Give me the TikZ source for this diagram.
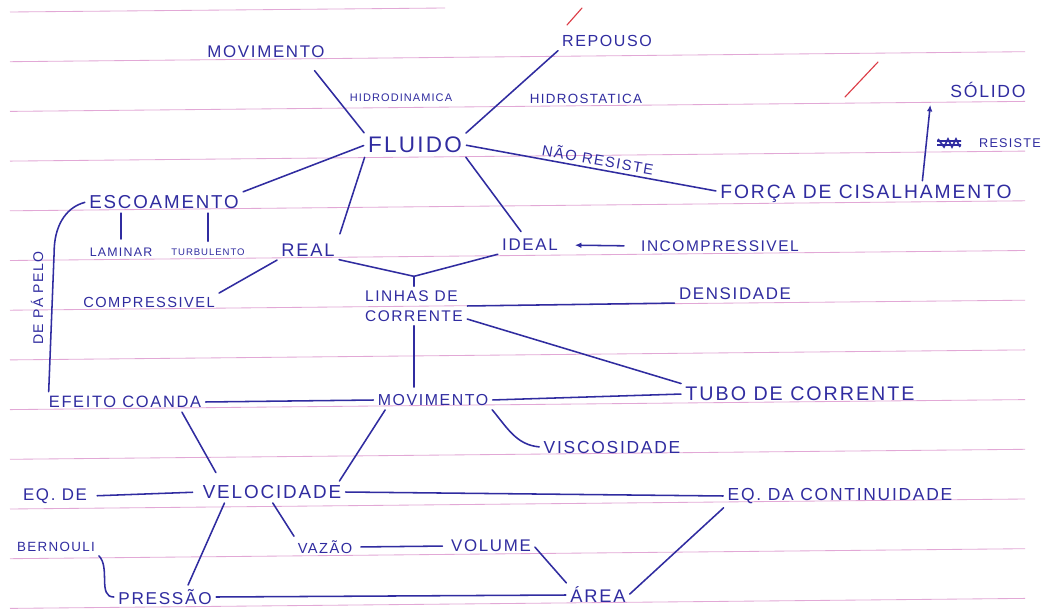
\documentclass[tikz,border=0pt]{standalone}
\usepackage{fontspec}
\setmainfont{Liberation Sans}[LetterSpace=10]
\usetikzlibrary{positioning,arrows.meta}
\definecolor{ink}{RGB}{48,44,160}
\definecolor{rulepink}{RGB}{226,168,214}
\definecolor{redpen}{RGB}{220,60,70}

\begin{document}
\begin{tikzpicture}[
    x=0.025cm, y=0.025cm,
    >={Latex[length=1.6mm,width=1.4mm]},
    word/.style={text=ink, inner sep=2pt, font=\fontsize{#1}{#1}\selectfont},
    word/.default=12,
    link/.style={draw=ink, line width=1.1pt, line cap=round, shorten <=1pt, shorten >=1pt},
    ruling/.style={draw=rulepink, line width=0.6pt},
    redmark/.style={draw=redpen, line width=0.8pt, line cap=round}
  ]
  \fill[white] (0,0) rectangle (1059,-611);
  \useasboundingbox (0,0) rectangle (1059,-611);

  % ruled paper
  \draw[ruling] (10,-12) -- (445,-8);
  \foreach \k in {1,...,12}
    \draw[ruling] (10,{-12-49.7*\k}) -- (1025,{-2-49.7*\k});
  \draw[redmark] (582,-8) -- (567,-25);
  \draw[redmark] (878,-62) -- (845,-97);

  % top part
  \node[word=12] (movtop) at (266,-52) {MOVIMENTO};
  \node[word=11.4] (repouso) at (607,-41) {REPOUSO};
  \node[word=16] (fluido) at (415,-145) {FLUIDO};
  \node[word=7.8] (hidrodin) at (401,-98) {HIDRODINAMICA};
  \node[word=9.5] (hidrost) at (586,-99) {HIDROSTATICA};
  \node[word=10.5, rotate=-10] (naores) at (598,-159) {NÃO RESISTE};
  \node[word=13.7] (forca) at (866,-194) {FORÇA DE CISALHAMENTO};
  \node[word=12.5] (solido) at (988,-90) {SÓLIDO};
  \node[word=9] (resiste) at (1010,-143) {RESISTE};

  % escoamento, real, ideal
  \node[word=13.3] (escoam) at (164,-202) {ESCOAMENTO};
  \node[word=8.8] (laminar) at (121,-252) {LAMINAR};
  \node[word=6.8] (turb) at (208,-252) {TURBULENTO};
  \node[word=13] (real) at (308,-250) {REAL};
  \node[word=12] (ideal) at (530,-245) {IDEAL};
  \node[word=11] (incomp) at (720,-246) {INCOMPRESSIVEL};
  \node[word=10.4] (compr) at (149,-302) {COMPRESSIVEL};
  \node[word, align=left, font=\fontsize{11}{14}\selectfont] (linhas) at (414,-306) {LINHAS DE\\CORRENTE};
  \node[word=12] (densid) at (735,-294) {DENSIDADE};
  \node[word=10, rotate=90] (pelo) at (37,-298) {DE PÁ PELO};

  % movimento
  \node[word=11.7] (efeito) at (125,-402) {EFEITO COANDA};
  \node[word=11.3] (movmid) at (433,-400) {MOVIMENTO};
  \node[word=14] (tubo) at (800,-394) {TUBO DE CORRENTE};
  \node[word=12.4] (viscos) at (612,-447) {VISCOSIDADE};

  % bottom part
  \node[word=12] (eqde) at (55,-496) {EQ. DE};
  \node[word=9.5] (bernouli) at (56,-547) {BERNOULI};
  \node[word=13.4] (veloc) at (272,-492) {VELOCIDADE};
  \node[word=12.4] (eqcont) at (840,-496) {EQ. DA CONTINUIDADE};
  \node[word=10.4] (vazao) at (325,-547) {VAZÃO};
  \node[word=12] (volume) at (491,-546) {VOLUME};
  \node[word=12.2] (pressao) at (165,-597) {PRESSÃO};
  \node[word=13] (area) at (598,-595) {ÁREA};

  % links
  \draw[link] (fluido.north west) -- ([xshift=-10pt,yshift=-6pt]movtop.south east);
  \draw[link] (fluido.north east) -- (repouso.south west);
  \draw[link] (fluido.east) -- ([yshift=2pt]forca.west);
  \draw[link] (fluido.west) -- (escoam.north east);
  \draw[link, shorten >=5pt] (fluido.south west) -- (real.north east);
  \draw[link, shorten >=4pt] (fluido.south east) -- ([xshift=-4pt]ideal.north);
  \draw[link, ->] ([xshift=40pt]forca.north) -- ([xshift=-12pt,yshift=-2pt]solido.south west);
  \draw[ink, line width=1.2pt] (938,-139) -- (944,-147) -- (948,-139) -- (952,-147) -- (956,-139) -- (960,-147)
    (937,-141) -- (961,-141) (937,-145) -- (961,-145);

  \draw[link, shorten <=4pt] (laminar.north) -- (laminar.north |- escoam.south);
  \draw[link, shorten <=3pt] (turb.north) -- (turb.north |- escoam.south);
  \draw[link] (escoam.west) to[out=195,in=90] ++(-32,-50) -- ([xshift=2pt]efeito.north west);
  \draw[link] (real.south west) -- (compr.north east);
  \coordinate (junc) at ([yshift=8pt]linhas.north);
  \draw[link] (real.south east) -- (junc) -- (ideal.south west);
  \draw[link, shorten <=0pt] (junc) -- (linhas.north);
  \draw[link, ->, shorten >=10pt, shorten <=10pt] (incomp.west) -- (ideal.east);
  \draw[link] (linhas.east) -- (densid.south west);
  \draw[link] ([yshift=-9pt]linhas.east) -- (tubo.north west);
  \draw[link, shorten >=3pt] (linhas.south) -- (linhas.south |- movmid.north);

  \draw[link] (efeito.east) -- (movmid.west);
  \draw[link] (movmid.east) -- (tubo.west);
  \draw[link] (movmid.south east) to[out=-50,in=175] (viscos.west);
  \draw[link] ([xshift=8pt]movmid.south west) -- ([xshift=-4pt]veloc.north east);
  \draw[link] ([xshift=40pt]efeito.south) -- ([xshift=12pt,yshift=6pt]veloc.north west);

  \draw[link, shorten <=5pt, shorten >=5pt] (eqde.east) -- (veloc.west);
  \draw[link] (veloc.east) -- (eqcont.west);
  \draw[link] (veloc.south) -- (vazao.north west);
  \draw[link] ([xshift=18pt]veloc.south west) -- ([xshift=16pt]pressao.north);
  \draw[link, shorten <=4pt, shorten >=4pt] (vazao.east) -- (volume.west);
  \draw[link] (volume.east) -- (area.north west);
  \draw[link] (bernouli.south east) to[out=-45,in=180] (pressao.west);
  \draw[link] (pressao.east) -- (area.west);
  \draw[link] (eqcont.south west) -- (area.east);
\end{tikzpicture}
\end{document}
